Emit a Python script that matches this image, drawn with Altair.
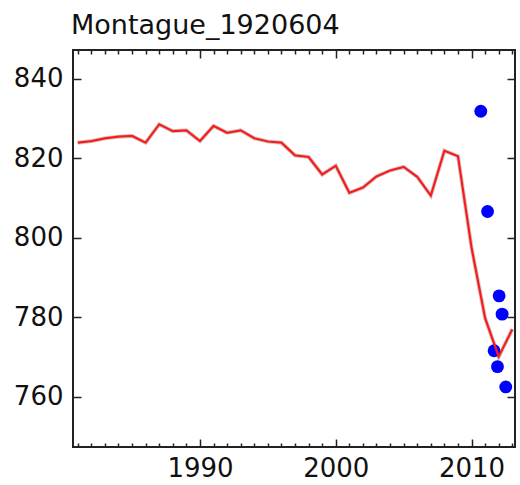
import altair as alt
import pandas as pd

# ---- data ----
years = [1981, 1982, 1983, 1984, 1985, 1986, 1987, 1988, 1989, 1990,
         1991, 1992, 1993, 1994, 1995, 1996, 1997, 1998, 1999, 2000,
         2001, 2002, 2003, 2004, 2005, 2006, 2007, 2008, 2009, 2010,
         2011, 2012, 2013]
values = [823.9, 824.3, 825.0, 825.4, 825.6, 823.9, 828.5, 826.8, 827.0, 824.3,
          828.1, 826.4, 827.0, 825.0, 824.2, 823.9, 820.7, 820.3, 815.9, 818.1,
          811.3, 812.6, 815.4, 816.9, 817.8, 815.3, 810.6, 821.9, 820.5, 797.5,
          779.8, 770.1, 777.0]
obs_years = [2010.68, 2011.18, 2012.03, 2012.25, 2011.66, 2011.91, 2012.52]
obs_values = [831.8, 806.6, 785.4, 780.8, 771.6, 767.6, 762.5]

x_label_values = [1990, 2000, 2010]
y_label_values = [760, 780, 800, 820, 840]
title_text = "Montague_1920604"

line_df = pd.DataFrame({"year": years, "value": values})
pts_df = pd.DataFrame({"year": obs_years, "value": obs_values})

W, H = 442, 397
FONT = "DejaVu Sans"
TICK = "#222222"

xs = alt.Scale(domain=[1980.65, 2013.2], nice=False, zero=False)
ys = alt.Scale(domain=[747.4, 847.2], nice=False, zero=False)

x_tick_size = {"condition": {"test": "datum.value % 10 === 0", "value": 8}, "value": 4}

common = dict(grid=False, domain=False, title=None)

x_labels = alt.Axis(orient="bottom", values=x_label_values, format="d", ticks=False, tickSize=0,
                    labelFontSize=26, labelFont=FONT, labelColor="#111", labelPadding=8, **common)
y_labels = alt.Axis(orient="left", values=y_label_values, format="d", ticks=False, tickSize=0,
                    labelFontSize=26, labelFont=FONT, labelColor="#111", labelPadding=10, **common)

x_bottom_in = alt.Axis(orient="top", offset=-H, values=years, labels=False, tickSize=x_tick_size,
                       tickColor=TICK, tickWidth=1.5, **common)
x_top_in = alt.Axis(orient="bottom", offset=-H, values=years, labels=False, tickSize=x_tick_size,
                    tickColor=TICK, tickWidth=1.5, **common)
y_left_in = alt.Axis(orient="right", offset=-W, values=y_label_values, labels=False, tickSize=8,
                     tickColor=TICK, tickWidth=1.5, **common)
y_right_in = alt.Axis(orient="left", offset=-W, values=y_label_values, labels=False, tickSize=8,
                      tickColor=TICK, tickWidth=1.5, **common)

halo = alt.Chart(line_df).mark_line(color="#999999", strokeWidth=4, opacity=0.5).encode(
    x=alt.X("year:Q", scale=xs, axis=x_labels),
    y=alt.Y("value:Q", scale=ys, axis=y_labels),
)

points = alt.Chart(pts_df).mark_circle(color="#0000ff", size=165, opacity=1).encode(
    x=alt.X("year:Q", scale=xs, axis=x_top_in),
    y=alt.Y("value:Q", scale=ys, axis=y_right_in),
)

line = alt.Chart(line_df).mark_line(color="#ff1a1a", strokeWidth=2.2).encode(
    x=alt.X("year:Q", scale=xs, axis=x_bottom_in),
    y=alt.Y("value:Q", scale=ys, axis=y_left_in),
)

chart = alt.layer(halo, points, line).resolve_axis(x="independent", y="independent").properties(
    width=W,
    height=H,
    title=alt.TitleParams(title_text, anchor="start", frame="group", fontSize=27, font=FONT,
                          fontWeight="normal", color="#111", baseline="alphabetic", offset=-12, dx=-2),
    autosize=alt.AutoSizeParams(type="none"),
    padding={"left": 73, "top": 50, "right": 5, "bottom": 38},
).configure_view(stroke="#222222", strokeWidth=2)

chart.save("out.html", embed_options={"renderer": "svg", "actions": False})
